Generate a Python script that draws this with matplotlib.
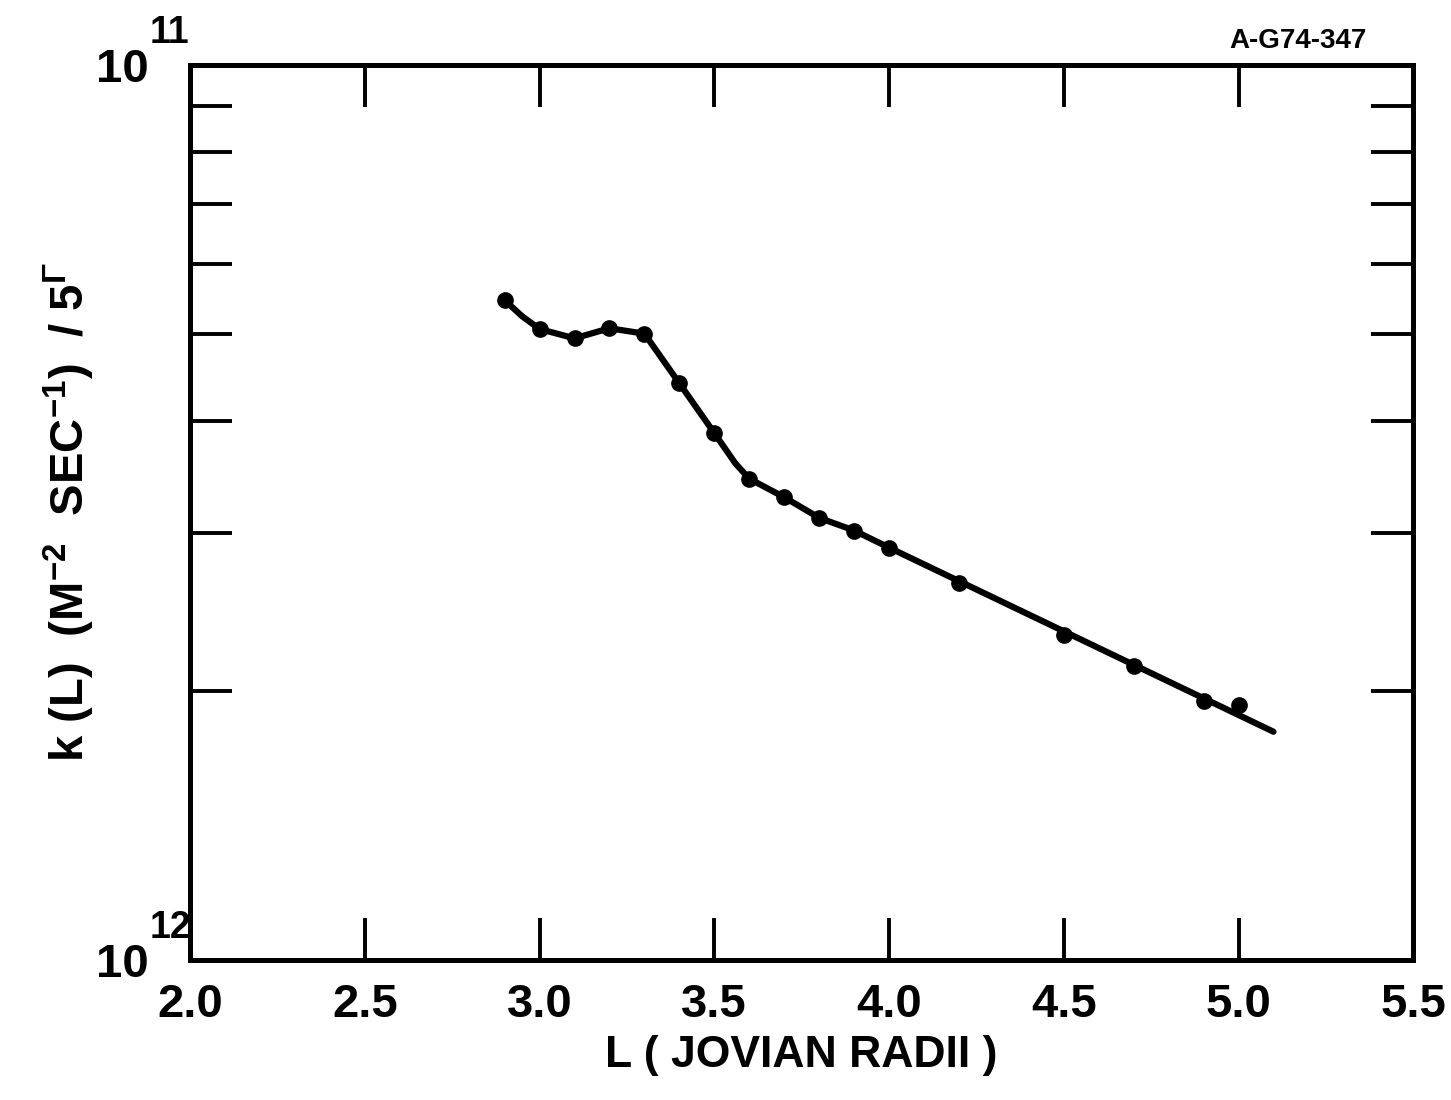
import matplotlib
matplotlib.use('Agg')
import matplotlib.pyplot as plt
from matplotlib.ticker import FixedLocator, NullFormatter

plt.rcParams['font.family'] = ['Liberation Sans', 'DejaVu Sans']
plt.rcParams['font.weight'] = 'bold'
plt.rcParams['axes.labelweight'] = 'bold'
plt.rcParams['mathtext.fontset'] = 'custom'
plt.rcParams['mathtext.rm'] = 'Liberation Sans:bold'
plt.rcParams['mathtext.it'] = 'Liberation Sans:bold'
plt.rcParams['mathtext.bf'] = 'Liberation Sans:bold'
plt.rcParams['mathtext.default'] = 'rm'

# measured points, L in Jovian radii, k in units of 1e-12
L_pts = [2.9, 3.0, 3.1, 3.2, 3.3, 3.4, 3.5, 3.6, 3.7, 3.8, 3.9, 4.0, 4.2, 4.5, 4.7, 4.9, 5.0]
k_pts = [5.46, 5.07, 4.95, 5.08, 5.01, 4.41, 3.88, 3.45, 3.29, 3.12, 3.02, 2.89,
         2.64, 2.31, 2.13, 1.95, 1.93]

# hand drawn curve through the points
L_fit = [2.9, 2.95, 3.0, 3.1, 3.2, 3.3, 3.4, 3.5, 3.56, 3.6, 3.7, 3.8, 3.9, 4.0, 5.1]
k_fit = [5.46, 5.24, 5.07, 4.95, 5.08, 5.01, 4.41, 3.88, 3.59, 3.45, 3.29, 3.12, 3.02, 2.89, 1.80]

x_ticks = [2.0, 2.5, 3.0, 3.5, 4.0, 4.5, 5.0, 5.5]
y_minor = [2, 3, 4, 5, 6, 7, 8, 9]
y_major = [1e-12, 1e-11]
y_exp = ['12', '11']
scale = 1e-12

fig = plt.figure(figsize=(14.51, 11.0), dpi=100)
ax = fig.add_axes([0.131, 0.127, 0.843, 0.814])

ax.plot(L_fit, [v * scale for v in k_fit], color='black', lw=4.5,
        solid_capstyle='round', solid_joinstyle='round')
ax.plot(L_pts, [v * scale for v in k_pts], 'o', color='black', ms=11)

ax.set_yscale('log')
ax.set_xlim(2.0, 5.5)
ax.set_ylim(1e-12, 1e-11)

ax.set_xticks(x_ticks)
ax.set_xticklabels(['%.1f' % t for t in x_ticks])
ax.tick_params(axis='x', which='major', direction='in', length=30, width=2.8,
               top=True, bottom=True, labelsize=34, pad=16)

# y labels: "10" as tick label, exponent as separate raised text
ax.set_yticks(y_major)
ax.set_yticklabels(['10', '10'])
ax.yaxis.set_minor_locator(FixedLocator([m * scale for m in y_minor]))
ax.yaxis.set_minor_formatter(NullFormatter())
ax.tick_params(axis='y', which='major', length=0, labelsize=34, pad=30)
ax.tick_params(axis='y', which='minor', direction='in', length=30, width=2.8,
               left=True, right=True)
trans = ax.get_yaxis_transform()
for yv, ex in zip(y_major, y_exp):
    ax.annotate(ex, xy=(0, yv), xycoords=trans, xytext=(-29, 10),
                textcoords='offset points', fontsize=27, ha='left', va='bottom')

for s in ax.spines.values():
    s.set_linewidth(3.6)

ax.set_xlabel('L ( JOVIAN RADII )', fontsize=32, labelpad=6)
ax.set_ylabel('k (L)  (M$^{-2}$  SEC$^{-1}$)  / 5$^{\\Gamma}$', fontsize=34)
ax.yaxis.set_label_coords(-0.076, 0.5)

fig.text(0.8946, 0.963, 'A-G74-347', fontsize=20, ha='center', va='center')

fig.savefig('out.png', dpi=100)
